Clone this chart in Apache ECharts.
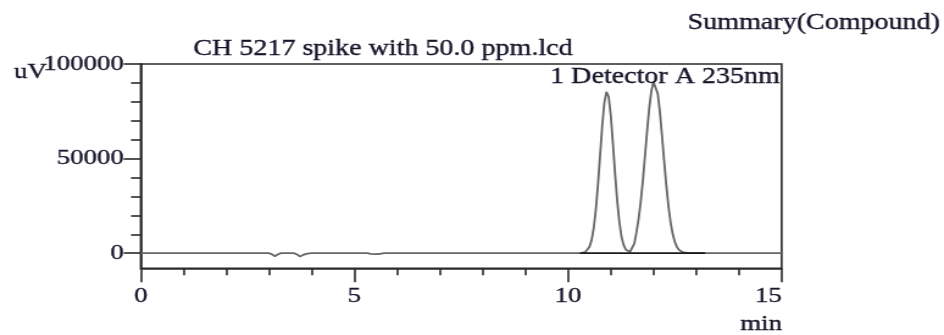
<!DOCTYPE html>
<html>
<head>
<meta charset="utf-8">
<script src="https://cdn.jsdelivr.net/npm/echarts@6/dist/echarts.min.js"></script>
<style>
  html, body { margin: 0; padding: 0; background: #fff; overflow: hidden; }
  /* The report printout is horizontally stretched; render narrower and widen. */
  #chart { width: 774px; height: 335px; transform: scaleX(1.21964); transform-origin: 0 0; }
</style>
</head>
<body>
<div id="chart"></div>
<script>
// Chromatogram samples: retention time (min) and detector response (uV)
const retentionTime = [
  0, 3.0, 3.08, 3.14, 3.2, 3.28, 3.58, 3.66, 3.73, 3.8, 3.9, 4.0,
  5.3, 5.38, 5.5, 5.62, 5.7, 10.3,
  10.35, 10.4, 10.45, 10.5, 10.55, 10.6, 10.65, 10.7, 10.75, 10.8, 10.85, 10.9,
  10.95, 11.0, 11.05, 11.1, 11.15, 11.2, 11.25, 11.3, 11.35, 11.4, 11.45, 11.5,
  11.55, 11.6, 11.65, 11.7, 11.75, 11.8, 11.85, 11.9, 11.95, 12.0,
  12.05, 12.1, 12.15, 12.2, 12.25, 12.3, 12.35, 12.4, 12.45, 12.5,
  12.55, 12.6, 12.65, 12.7, 12.75, 12.85, 15
];
const response = [
  0, 0, -700, -1700, -700, 0, 0, -700, -1800, -900, -200, 0,
  0, -400, -500, -300, 0, 0,
  150, 530, 1370, 3210, 6790, 13060, 22800, 36100, 51800, 67400, 79600, 85300,
  82700, 72900, 58200, 42200, 27800, 16500, 8900, 4400, 1950, 900, 650, 1700,
  5000, 10800, 17800, 26900, 38200, 51200, 64400, 76700, 85800, 90600,
  90000, 84300, 74400, 61900, 48500, 35800, 24800, 16300, 10100, 5900,
  3200, 1650, 800, 370, 150, 0, 0
];
// Integration baseline drawn under the two peaks
const baselineTime = [10.28, 13.21];
const baselineResponse = [0, 0];

// Axis ticks and labels
const xTicks = [0, 5, 10, 15];
const yMajorTicks = [0, 50000, 100000];
const yMinorTicks = [10000, 20000, 30000, 40000, 60000, 70000, 80000, 90000];

const fileTitle = 'CH 5217 spike with 50.0 ppm.lcd';
const reportTitle = 'Summary(Compound)';
const channelName = '1 Detector A 235nm';
const yUnit = 'uV';
const xUnit = 'min';

const FONT = "'Liberation Serif', 'Times New Roman', serif";
const INK = '#15152a';
const AXIS = '#2a2a2a';
// a hairline outline in the ink colour gives the printed text its weight
const inkEdge = { textBorderColor: INK, textBorderWidth: 0.35 };
const textStyle = (text, size, align) => ({
  text, fill: INK, font: size + 'px ' + FONT, align, verticalAlign: 'middle',
  stroke: INK, lineWidth: 0.35
});

const traceData = retentionTime.map((t, i) => [t, response[i]]);
const baselineData = baselineTime.map((t, i) => [t, baselineResponse[i]]);

const chart = echarts.init(document.getElementById('chart'), null, { renderer: 'canvas' });

chart.setOption({
  animation: false,
  backgroundColor: '#fff',
  grid: {
    left: 115.4, right: 133.1, top: 64, bottom: 66.7,
    show: true, borderColor: AXIS, borderWidth: 1.6, backgroundColor: 'transparent'
  },
  xAxis: {
    type: 'value', min: xTicks[0], max: xTicks[xTicks.length - 1], interval: 5,
    axisLine: { show: true, onZero: false, lineStyle: { color: AXIS, width: 1.6 } },
    axisTick: { show: true, length: 14, lineStyle: { color: AXIS, width: 1.6 } },
    minorTick: { show: true, splitNumber: 5, length: 7, lineStyle: { color: AXIS, width: 1.6 } },
    splitLine: { show: false },
    axisLabel: Object.assign({
      margin: 17, fontSize: 22, fontFamily: FONT, color: INK,
      alignMaxLabel: 'right', formatter: v => String(v)
    }, inkEdge)
  },
  yAxis: [
    {
      type: 'value', min: -8000, max: 100000, position: 'left',
      axisLine: { show: true, onZero: false, lineStyle: { color: AXIS, width: 1.6 } },
      axisTick: { show: true, length: 14, customValues: yMajorTicks, lineStyle: { color: AXIS, width: 1.6 } },
      splitLine: { show: false },
      axisLabel: Object.assign({
        margin: 14, fontSize: 22, fontFamily: FONT, color: INK,
        customValues: yMajorTicks, formatter: v => String(v)
      }, inkEdge)
    },
    {
      type: 'value', min: -8000, max: 100000, position: 'left',
      axisLine: { show: false },
      axisTick: { show: true, length: 8, customValues: yMinorTicks, lineStyle: { color: AXIS, width: 1.6 } },
      splitLine: { show: false },
      axisLabel: { show: false }
    }
  ],
  graphic: [
    { type: 'text', x: 770.7, y: 23, style: textStyle(reportTitle, 23, 'right') },
    { type: 'text', x: 314, y: 48.5, style: textStyle(fileTitle, 23, 'center') },
    { type: 'text', x: 639.5, y: 77, z: 10, style: textStyle(channelName, 23, 'right') },
    { type: 'text', x: 38.5, y: 72, style: textStyle(yUnit, 22, 'right') },
    { type: 'text', x: 641.2, y: 324, style: textStyle(xUnit, 22, 'right') }
  ],
  series: [
    {
      type: 'line', xAxisIndex: 0, yAxisIndex: 0, data: traceData,
      showSymbol: false, symbol: 'none',
      lineStyle: { color: '#666', width: 1.8 }, z: 2
    },
    {
      type: 'line', xAxisIndex: 0, yAxisIndex: 0, data: baselineData,
      showSymbol: false, symbol: 'none',
      lineStyle: { color: '#1a1a1a', width: 1.6 }, z: 3
    }
  ]
});
</script>
</body>
</html>
